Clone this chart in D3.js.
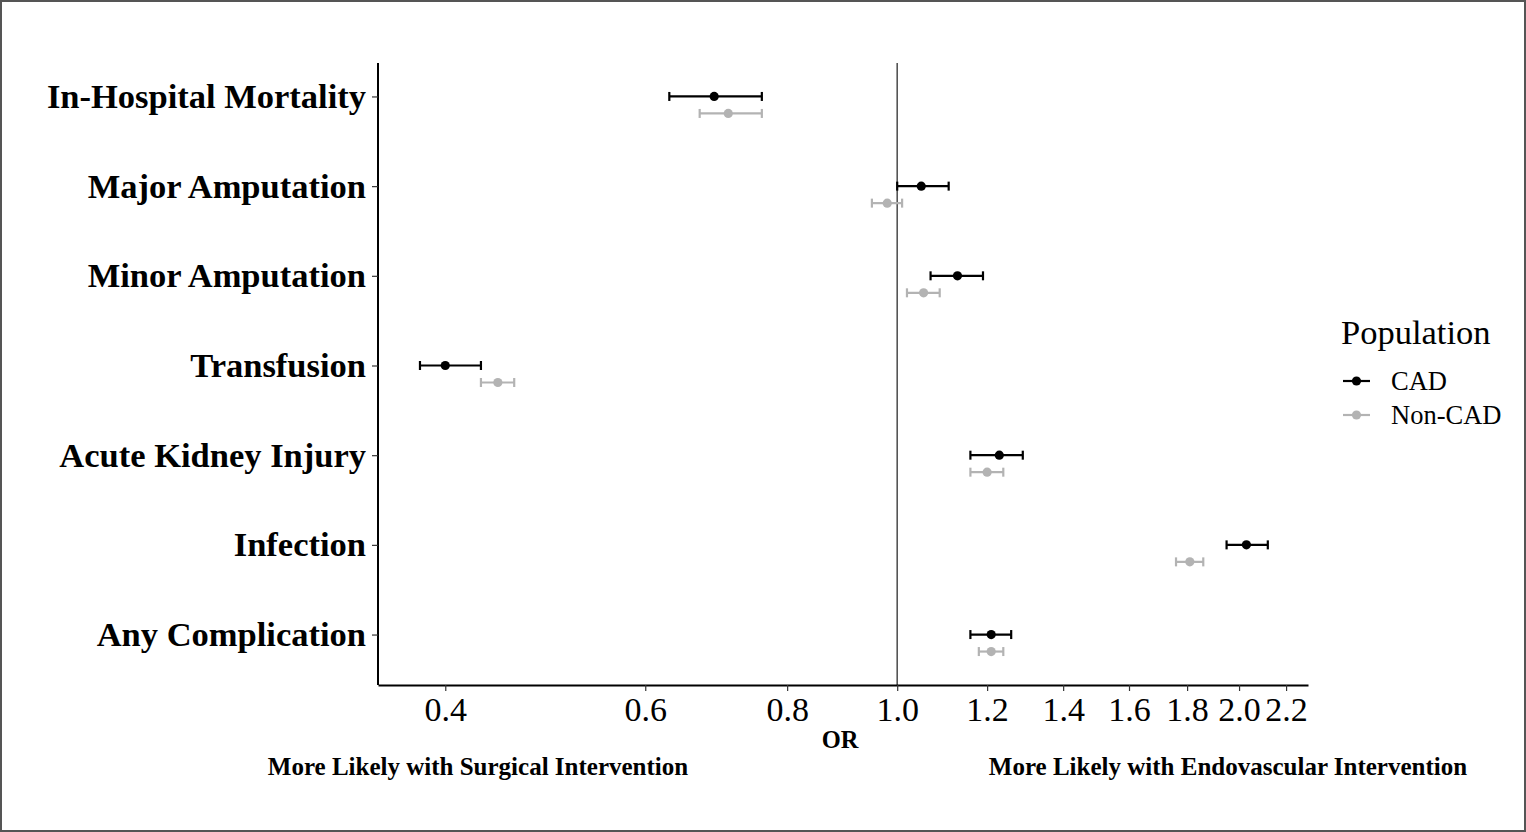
<!DOCTYPE html>
<html>
<head>
<meta charset="utf-8">
<script src="https://cdn.jsdelivr.net/npm/d3@7"></script>
<style>
  body { margin: 0; background: #fff; }
  svg text { font-family: "Liberation Serif", "Times New Roman", serif; }
</style>
</head>
<body>
<div id="chart"></div>
<script>
// Outcomes, top to bottom
const outcomes = ["In-Hospital Mortality", "Major Amputation", "Minor Amputation",
  "Transfusion", "Acute Kidney Injury", "Infection", "Any Complication"];

// CAD: odds ratio and 95% CI
const cadOR   = [0.69, 1.05, 1.13, 0.40, 1.23, 2.03, 1.21];
const cadLow  = [0.63, 1.00, 1.07, 0.38, 1.16, 1.95, 1.16];
const cadHigh = [0.76, 1.11, 1.19, 0.43, 1.29, 2.12, 1.26];

// Non-CAD
const nonOR   = [0.71, 0.98, 1.055, 0.445, 1.20, 1.81, 1.21];
const nonLow  = [0.67, 0.95, 1.02, 0.43, 1.16, 1.76, 1.18];
const nonHigh = [0.76, 1.01, 1.09, 0.46, 1.24, 1.86, 1.24];

const groups = ["CAD", "Non-CAD"];
const groupColors = ["#000000", "#b3b3b3"];
const xTicks = [0.4, 0.6, 0.8, 1.0, 1.2, 1.4, 1.6, 1.8, 2.0, 2.2];

const width = 1526, height = 832;
const panel = { left: 378, right: 1308, top: 63, bottom: 685 };

const svg = d3.select("#chart").append("svg")
  .attr("width", width)
  .attr("height", height);

// outer frame
svg.append("rect")
  .attr("x", 1).attr("y", 1)
  .attr("width", width - 2).attr("height", height - 2)
  .attr("fill", "none").attr("stroke", "#555").attr("stroke-width", 2);

const x = d3.scaleLog().domain([0.349, 2.30]).range([panel.left, panel.right]);
const dodge = 17;
const y = d3.scalePoint().domain(outcomes)
  .range([panel.top, panel.bottom - dodge]).padding(0.373);

// reference line at OR = 1
svg.append("line")
  .attr("x1", x(1)).attr("x2", x(1))
  .attr("y1", panel.top).attr("y2", panel.bottom)
  .attr("stroke", "#555").attr("stroke-width", 1.6);

// axes
const xAxis = svg.append("g")
  .attr("transform", `translate(0,${panel.bottom})`)
  .call(d3.axisBottom(x).tickValues(xTicks).tickFormat(d3.format(".1f")).tickSize(6).tickPadding(6).tickSizeOuter(0));
xAxis.select(".domain").attr("stroke", "#000").attr("stroke-width", 2);
xAxis.selectAll(".tick line").attr("stroke", "#333").attr("stroke-width", 1.2);
xAxis.selectAll(".tick text")
  .attr("fill", "#000")
  .style("font-size", "34px");

const yAxis = svg.append("g")
  .attr("transform", `translate(${panel.left},0)`)
  .call(d3.axisLeft(y).tickSize(6).tickPadding(6).tickSizeOuter(0));
yAxis.select(".domain").attr("stroke", "#000").attr("stroke-width", 2)
  .attr("d", `M0,${panel.top}V${panel.bottom}`);
yAxis.selectAll(".tick line").attr("stroke", "#333").attr("stroke-width", 1.2);
yAxis.selectAll(".tick text")
  .attr("fill", "#000")
  .style("font-size", "34.5px")
  .style("font-weight", "bold");

// build rows
const rows = [];
outcomes.forEach((o, i) => {
  rows.push({ outcome: o, g: 0, or: cadOR[i], lo: cadLow[i], hi: cadHigh[i] });
  rows.push({ outcome: o, g: 1, or: nonOR[i], lo: nonLow[i], hi: nonHigh[i] });
});
const yPos = d => y(d.outcome) + d.g * dodge;
const cap = 4.5;

const mark = svg.append("g").selectAll("g")
  .data(rows)
  .enter()
  .append("g")
  .attr("stroke", d => groupColors[d.g])
  .attr("fill", d => groupColors[d.g])
  .attr("stroke-width", 2.2);

mark.append("line")
  .attr("x1", d => x(d.lo)).attr("x2", d => x(d.hi))
  .attr("y1", yPos).attr("y2", yPos);
mark.append("line")
  .attr("x1", d => x(d.lo)).attr("x2", d => x(d.lo))
  .attr("y1", d => yPos(d) - cap).attr("y2", d => yPos(d) + cap);
mark.append("line")
  .attr("x1", d => x(d.hi)).attr("x2", d => x(d.hi))
  .attr("y1", d => yPos(d) - cap).attr("y2", d => yPos(d) + cap);
mark.append("circle")
  .attr("cx", d => x(d.or)).attr("cy", yPos)
  .attr("r", 4.6).attr("stroke", "none");

// axis titles
svg.append("text")
  .attr("x", 840).attr("y", 748)
  .attr("text-anchor", "middle")
  .style("font-size", "24.5px").style("font-weight", "bold")
  .text("OR");
svg.append("text")
  .attr("x", 478).attr("y", 775)
  .attr("text-anchor", "middle")
  .style("font-size", "25px").style("font-weight", "bold")
  .text("More Likely with Surgical Intervention");
svg.append("text")
  .attr("x", 1228).attr("y", 775)
  .attr("text-anchor", "middle")
  .style("font-size", "25px").style("font-weight", "bold")
  .text("More Likely with Endovascular Intervention");

// legend
const legend = svg.append("g").attr("transform", "translate(1341,0)");
legend.append("text")
  .attr("x", 0).attr("y", 344)
  .style("font-size", "34.5px")
  .text("Population");

const item = legend.selectAll(".item")
  .data(groups)
  .enter()
  .append("g")
  .attr("transform", (d, i) => `translate(0,${381 + i * 34})`);
item.append("line")
  .attr("x1", 2).attr("x2", 29)
  .attr("stroke", (d, i) => groupColors[i]).attr("stroke-width", 2.2);
item.append("circle")
  .attr("cx", 15.5).attr("r", 4.6)
  .attr("fill", (d, i) => groupColors[i]);
item.append("text")
  .attr("x", 50).attr("dy", "0.35em")
  .style("font-size", "26.5px")
  .text(d => d);
</script>
</body>
</html>
